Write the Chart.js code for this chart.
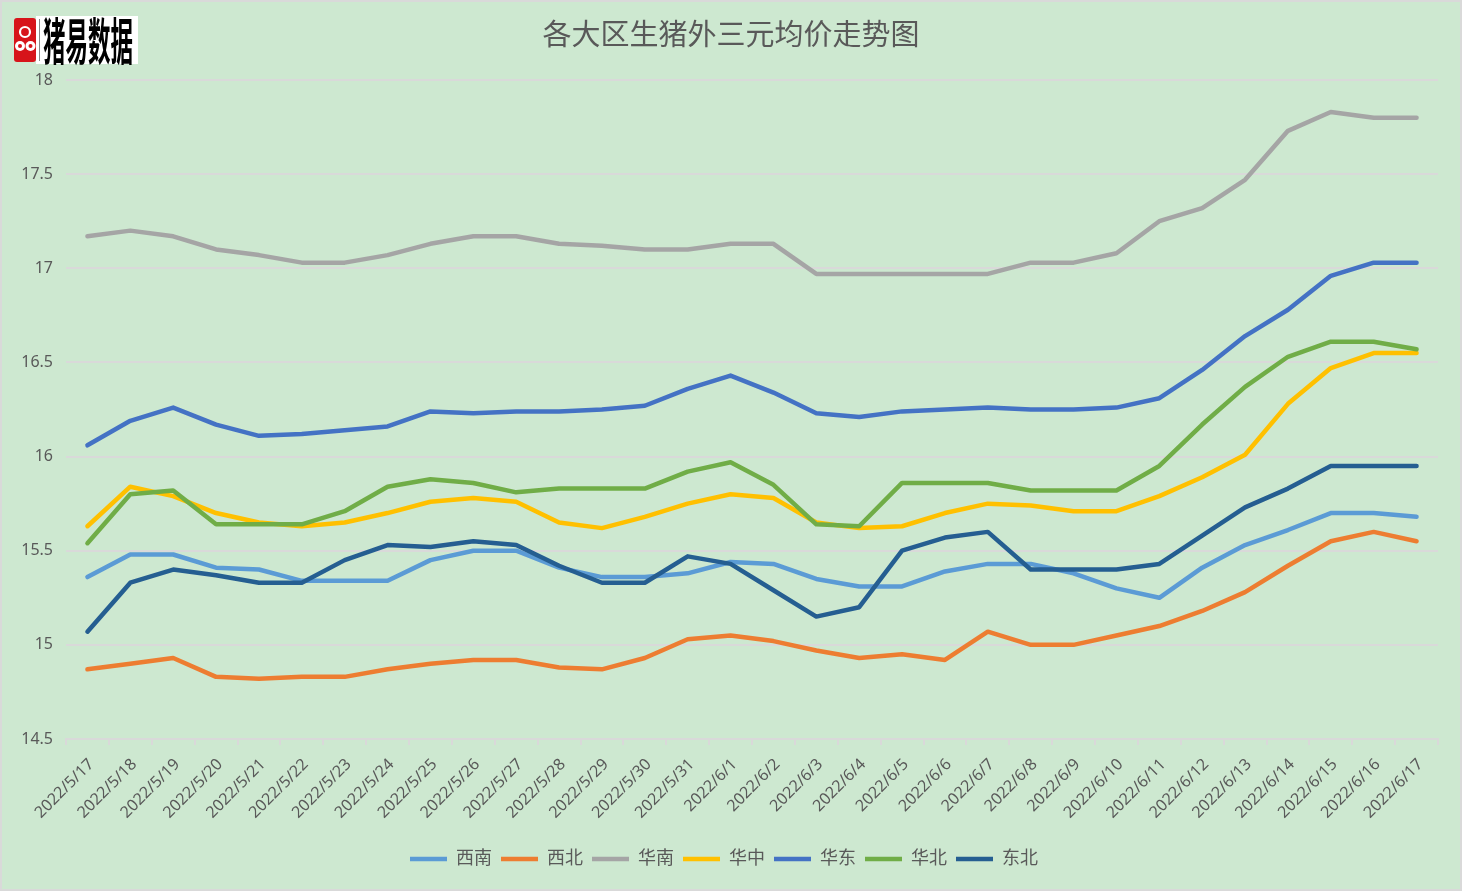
<!DOCTYPE html>
<html><head><meta charset="utf-8">
<script src="https://cdn.jsdelivr.net/npm/chart.js@4.4.0/dist/chart.umd.min.js"></script>
<style>html,body{margin:0;padding:0;background:#cde8d0;overflow:hidden}#wrap{width:1462px;height:891px;position:relative}</style>
</head><body><div id="wrap"><canvas id="c" width="1462" height="891"></canvas></div>
<script>
const categories = ["2022/5/17","2022/5/18","2022/5/19","2022/5/20","2022/5/21","2022/5/22","2022/5/23","2022/5/24","2022/5/25","2022/5/26","2022/5/27","2022/5/28","2022/5/29","2022/5/30","2022/5/31","2022/6/1","2022/6/2","2022/6/3","2022/6/4","2022/6/5","2022/6/6","2022/6/7","2022/6/8","2022/6/9","2022/6/10","2022/6/11","2022/6/12","2022/6/13","2022/6/14","2022/6/15","2022/6/16","2022/6/17"];
const seriesNames = ["西南","西北","华南","华中","华东","华北","东北"];
const xinan = [15.36,15.48,15.48,15.41,15.40,15.34,15.34,15.34,15.45,15.50,15.50,15.41,15.36,15.36,15.38,15.44,15.43,15.35,15.31,15.31,15.39,15.43,15.43,15.38,15.30,15.25,15.41,15.53,15.61,15.70,15.70,15.68];
const xibei = [14.87,14.90,14.93,14.83,14.82,14.83,14.83,14.87,14.90,14.92,14.92,14.88,14.87,14.93,15.03,15.05,15.02,14.97,14.93,14.95,14.92,15.07,15.00,15.00,15.05,15.10,15.18,15.28,15.42,15.55,15.60,15.55];
const huanan = [17.17,17.20,17.17,17.10,17.07,17.03,17.03,17.07,17.13,17.17,17.17,17.13,17.12,17.10,17.10,17.13,17.13,16.97,16.97,16.97,16.97,16.97,17.03,17.03,17.08,17.25,17.32,17.47,17.73,17.83,17.80,17.80];
const huazhong = [15.63,15.84,15.79,15.70,15.65,15.63,15.65,15.70,15.76,15.78,15.76,15.65,15.62,15.68,15.75,15.80,15.78,15.65,15.62,15.63,15.70,15.75,15.74,15.71,15.71,15.79,15.89,16.01,16.28,16.47,16.55,16.55];
const huadong = [16.06,16.19,16.26,16.17,16.11,16.12,16.14,16.16,16.24,16.23,16.24,16.24,16.25,16.27,16.36,16.43,16.34,16.23,16.21,16.24,16.25,16.26,16.25,16.25,16.26,16.31,16.46,16.64,16.78,16.96,17.03,17.03];
const huabei = [15.54,15.80,15.82,15.64,15.64,15.64,15.71,15.84,15.88,15.86,15.81,15.83,15.83,15.83,15.92,15.97,15.85,15.64,15.63,15.86,15.86,15.86,15.82,15.82,15.82,15.95,16.17,16.37,16.53,16.61,16.61,16.57];
const dongbei = [15.07,15.33,15.40,15.37,15.33,15.33,15.45,15.53,15.52,15.55,15.53,15.42,15.33,15.33,15.47,15.43,15.29,15.15,15.20,15.50,15.57,15.60,15.40,15.40,15.40,15.43,15.58,15.73,15.83,15.95,15.95,15.95];
const yTicks = {min: 14.5, max: 18, step: 0.5};
const titleText = "各大区生猪外三元均价走势图";
const logoText = "猪易数据";

const colors = ["#5b9bd5","#ed7d31","#a5a5a5","#ffc000","#4472c4","#70ad47","#255e91"];
const allSeries = [xinan, xibei, huanan, huazhong, huadong, huabei, dongbei];
const FONT = '"Noto Sans", "Noto Sans CJK SC", sans-serif';
const BG = '#cde8d0';

const decor = {
  id: 'decor',
  beforeDraw(chart) {
    const ctx = chart.ctx;
    ctx.save();
    ctx.fillStyle = BG;
    ctx.fillRect(0, 0, chart.width, chart.height);
    ctx.restore();
  },
  afterDraw(chart) {
    const ctx = chart.ctx;
    ctx.save();
    ctx.strokeStyle = '#d9d9d9';
    ctx.lineWidth = 2;
    ctx.strokeRect(1, 1, chart.width - 2, chart.height - 2);
    ctx.fillStyle = '#595959';
    ctx.font = '29px "Noto Sans CJK SC", sans-serif';
    ctx.textAlign = 'center';
    ctx.textBaseline = 'middle';
    ctx.fillText(titleText, 731, 34);
    // logo icon
    ctx.fillStyle = '#d7141a';
    ctx.beginPath();
    if (ctx.roundRect) ctx.roundRect(14, 18, 22, 44, 3); else ctx.rect(14, 18, 22, 44);
    ctx.fill();
    ctx.strokeStyle = '#ffffff';
    ctx.lineWidth = 2.2;
    ctx.beginPath(); ctx.arc(25, 32, 5, 0, Math.PI * 2); ctx.stroke();
    ctx.fillStyle = '#ffffff';
    ctx.beginPath(); ctx.arc(20, 46, 5, 0, Math.PI * 2); ctx.fill();
    ctx.beginPath(); ctx.arc(30.5, 46, 5, 0, Math.PI * 2); ctx.fill();
    ctx.fillStyle = '#d7141a';
    ctx.beginPath(); ctx.arc(20, 46, 2, 0, Math.PI * 2); ctx.fill();
    ctx.beginPath(); ctx.arc(30.5, 46, 2, 0, Math.PI * 2); ctx.fill();
    ctx.fillStyle = '#ffffff';
    ctx.fillRect(36, 16, 8, 48);
    ctx.fillStyle = '#888';
    ctx.fillRect(39, 19, 1, 42);
    ctx.fillStyle = '#ffffff';
    ctx.fillRect(43, 16, 95, 48);
    ctx.translate(43, 41);
    ctx.scale(0.5, 1.1);
    ctx.fillStyle = '#000000';
    ctx.font = 'bold 45px "Noto Sans CJK SC", sans-serif';
    ctx.textAlign = 'left';
    ctx.textBaseline = 'middle';
    ctx.fillText(logoText, 0, 0);
    ctx.restore();
  }
};

new Chart(document.getElementById('c'), {
  type: 'line',
  data: {
    labels: categories,
    datasets: seriesNames.map((name, i) => ({
      label: name,
      data: allSeries[i],
      borderColor: colors[i],
      backgroundColor: colors[i],
      borderWidth: 4.5,
      pointRadius: 0,
      pointHoverRadius: 0,
      pointStyle: 'line',
      borderJoinStyle: 'round',
      borderCapStyle: 'round',
      tension: 0,
      fill: false,
      order: seriesNames.length - i
    }))
  },
  options: {
    responsive: false,
    devicePixelRatio: 1,
    animation: false,
    events: [],
    layout: { padding: { top: 80, left: 10, right: 24, bottom: 13 } },
    plugins: {
      title: { display: false },
      tooltip: { enabled: false },
      legend: {
        position: 'bottom',
        labels: {
          usePointStyle: true,
          pointStyle: 'line',
          pointStyleWidth: 37,
          padding: 9,
          color: '#595959',
          font: { family: FONT, size: 18 },
          sort: (a, b) => a.datasetIndex - b.datasetIndex
        }
      }
    },
    scales: {
      x: {
        type: 'category',
        offset: true,
        grid: { display: true, offset: true, drawOnChartArea: false, drawTicks: true, tickLength: 6, color: '#d9d9d9', lineWidth: 2 },
        border: { display: true, color: '#d9d9d9', width: 2 },
        ticks: {
          color: '#595959',
          font: { family: FONT, size: 16 },
          minRotation: 45, maxRotation: 45,
          autoSkip: false,
          padding: 10,
          labelOffset: 4
        },
        afterFit(scale) { scale.height = 102; }
      },
      y: {
        min: yTicks.min, max: yTicks.max,
        grid: { color: '#d9d9d9', lineWidth: 2, drawTicks: false },
        border: { display: false },
        ticks: {
          stepSize: yTicks.step,
          color: '#595959',
          font: { family: FONT, size: 16 },
          padding: 13,
          callback: (v) => String(Math.round(v * 10) / 10)
        },
        afterFit(scale) { scale.width = 56; }
      }
    }
  },
  plugins: [decor]
});
</script>
</body></html>
